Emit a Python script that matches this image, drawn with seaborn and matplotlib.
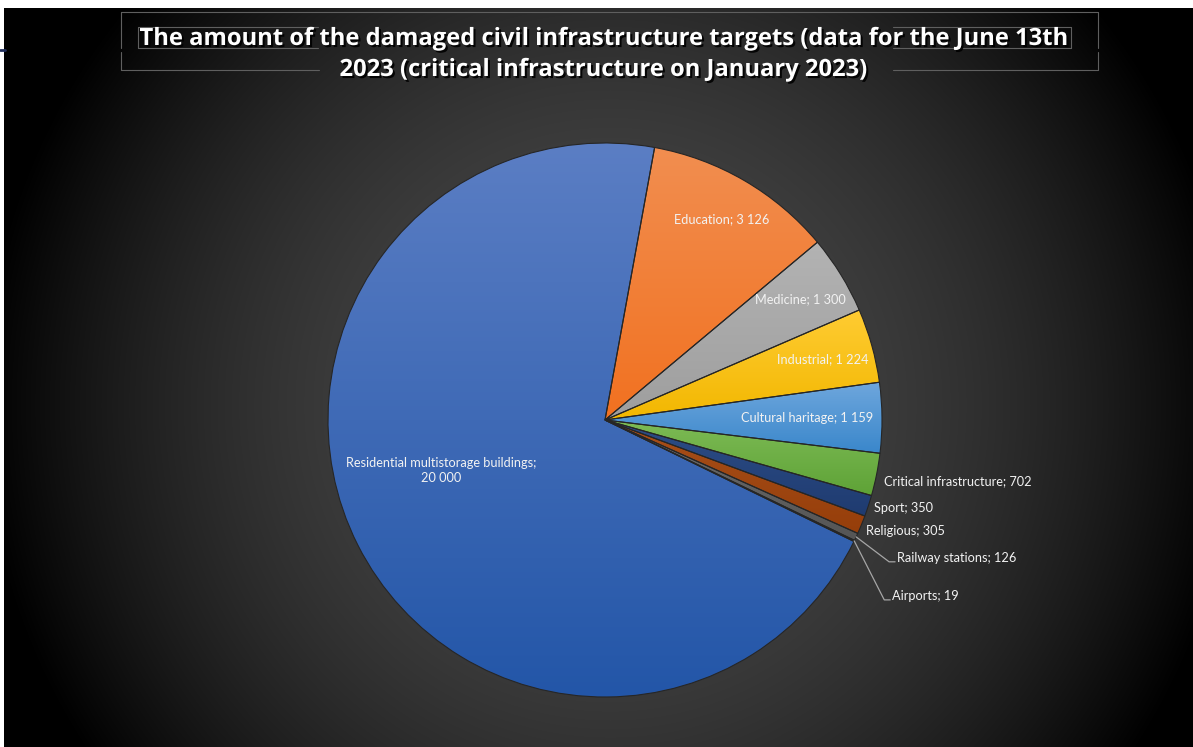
import numpy as np
import matplotlib
matplotlib.use("Agg")
import matplotlib.pyplot as plt
import matplotlib.patheffects as pe
from matplotlib.lines import Line2D
from matplotlib.colors import to_rgb
import seaborn as sns

# data
categories = ["Residential multistorage buildings", "Education", "Medicine", "Industrial",
              "Cultural haritage", "Critical infrastructure", "Sport", "Religious",
              "Railway stations", "Airports"]
values = [20000, 3126, 1300, 1224, 1159, 702, 350, 305, 126, 19]
title_lines = ["The amount of the damaged civil infrastructure targets (data for the June 13th",
               "2023 (critical infrastructure on January 2023)"]

# slice colours: top / bottom of the gradient
top_colors = ["#5B7EC4", "#F18E50", "#B3B3B3", "#FFCC33", "#6FA7DD",
              "#7DBB55", "#2D4E88", "#A9501A", "#6E6E6E", "#A37C00"]
bottom_colors = ["#2356A8", "#F27120", "#9E9E9E", "#F2B700", "#3A87CB",
                 "#5EA236", "#1F3B70", "#963E0A", "#555555", "#8A6800"]

# label placement: (radius, angle offset in deg, kind)
label_place = [(0.62, -9.8, "in"), (0.84, 0, "in"), (0.83, 0, "in"), (0.815, 0, "in"),
               (0.73, 0, "in"), (1.03, -1.0, "out"), (1.02, 0, "out"), (1.025, -0.8, "out"),
               (1.166, -0.3, "lead"), (1.216, -5.6, "lead")]

sns.set_theme(style="white")
plt.rcParams["font.family"] = ["Lato", "DejaVu Sans"]

W, H = 1193, 747
fig = plt.figure(figsize=(W / 100, H / 100), dpi=100, facecolor="white")


def px(x, y):
    return x / W, 1 - y / H


# background radial gradient (chart area)
bg = fig.add_axes([4 / W, 0, 1 - 4 / W, 1 - 8 / H])
bg.set_axis_off()
gx, gy = np.meshgrid(np.arange(4, W), np.arange(8, H))
rr = np.hypot(gx - 610, gy - 405)
v = np.clip(72 * (1 - (rr / 630) ** 2), 0, None) / 255
bg.imshow(np.dstack([v, v, v]), extent=(4, W, H, 8), aspect="auto", interpolation="bilinear")
bg.set_xlim(4, W)
bg.set_ylim(H, 8)

# small dark tick at left edge
fig.add_artist(Line2D([0, 5 / W], [1 - 50 / H] * 2, color="#1F2D5A", lw=2))

# pie axes
cx, cy, R, half = 605, 420, 277, 360
ax = fig.add_axes([(cx - half) / W, (H - cy - half) / H, 2 * half / W, 2 * half / H])
wedges, _ = ax.pie(values, startangle=-26.0, counterclock=False, radius=1,
                   wedgeprops=dict(edgecolor="#262626", linewidth=0.8))

for w, c_top, c_bot in zip(wedges, top_colors, bottom_colors):
    ext = w.get_path().get_extents()
    t = np.linspace(0, 1, 256)[:, None]
    grad = (1 - t) * np.array(to_rgb(c_top)) + t * np.array(to_rgb(c_bot))
    im = ax.imshow(grad[:, None, :], extent=(ext.x0, ext.x1, ext.y0, ext.y1),
                   origin="upper", aspect="auto", zorder=2, interpolation="bilinear")
    im.set_clip_path(w)
    w.set_facecolor("none")
    w.set_zorder(3)

lim = half / R
ax.set_xlim(-lim, lim)
ax.set_ylim(-lim, lim)
ax.set_aspect("equal", adjustable="box")
ax.set_axis_off()

label_color = "#F2F2F2"
for w, name, val, (rad, off, kind) in zip(wedges, categories, values, label_place):
    mid = np.deg2rad((w.theta1 + w.theta2) / 2 + off)
    x, y = rad * np.cos(mid), rad * np.sin(mid)
    txt_val = f"{val:,}".replace(",", " ")
    if kind == "in":
        text = f"{name};\n{txt_val}" if val == max(values) else f"{name}; {txt_val}"
        ax.text(x, y, text, ha="center", va="center", color=label_color, fontsize=9.2,
                linespacing=1.25, zorder=5)
    else:
        ax.text(x, y, f"{name}; {txt_val}", ha="left", va="center", color=label_color,
                fontsize=9.2, zorder=5, clip_on=False)
        if kind == "lead":
            wm = np.deg2rad((w.theta1 + w.theta2) / 2)
            ax.plot([np.cos(wm), x - 8 / R, x - 2 / R], [np.sin(wm), y - 4 / R, y - 4 / R],
                    color="#A6A6A6", lw=0.9, zorder=4, clip_on=False)

# title
shadow = [pe.withSimplePatchShadow(offset=(1.5, -1.5), shadow_rgbFace="black", alpha=0.9)]
title_kw = dict(ha="center", va="baseline", color="white", fontsize=16, fontweight="bold",
                family=["Open Sans", "DejaVu Sans"], path_effects=shadow)
t1 = fig.text(*px(603.5, 45), title_lines[0], **title_kw)
t2 = fig.text(*px(603.5, 76), title_lines[1], **title_kw)
fig.canvas.draw()
fs = 16 * 929 / t1.get_window_extent().width
t1.set_fontsize(fs)
t2.set_fontsize(fs)

# title box outlines
segs = [((121, 12), (1098, 12)), ((121, 12), (121, 48)), ((121, 52), (121, 70)),
        ((1098, 12), (1098, 48)), ((1098, 52), (1098, 70)),
        ((121, 70), (319, 70)), ((893, 70), (1098, 70)),
        ((138, 27), (138, 48)), ((1071, 27), (1071, 48)),
        ((138, 27), (318, 27)), ((893, 27), (1071, 27)),
        ((138, 48), (318, 48)), ((893, 48), (1071, 48))]
for (x0, y0), (x1, y1) in segs:
    a, b = px(x0, y0), px(x1, y1)
    fig.add_artist(Line2D([a[0], b[0]], [a[1], b[1]], color="#5F5F5F", lw=0.8))

fig.savefig("out.png", dpi=100, facecolor="white")
